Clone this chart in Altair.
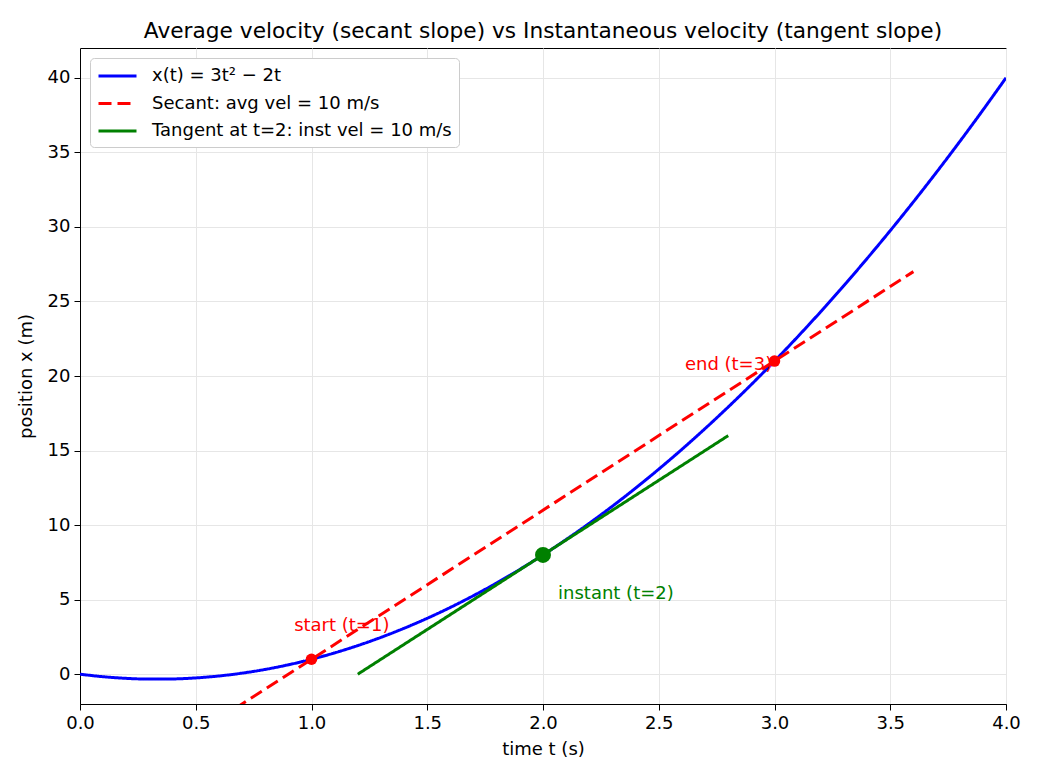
import altair as alt
import pandas as pd

# Curve x(t) = 3t^2 - 2t
t_vals = [0.0, 0.1, 0.2, 0.3, 0.4, 0.5, 0.6, 0.7, 0.8, 0.9, 1.0, 1.1, 1.2, 1.3, 1.4, 1.5,
          1.6, 1.7, 1.8, 1.9, 2.0, 2.1, 2.2, 2.3, 2.4, 2.5, 2.6, 2.7, 2.8, 2.9, 3.0, 3.1,
          3.2, 3.3, 3.4, 3.5, 3.6, 3.7, 3.8, 3.9, 4.0]
x_vals = [0.0, -0.17, -0.28, -0.33, -0.32, -0.25, -0.12, 0.07, 0.32, 0.63, 1.0, 1.43, 1.92,
          2.47, 3.08, 3.75, 4.48, 5.27, 6.12, 7.03, 8.0, 9.03, 10.12, 11.27, 12.48, 13.75,
          15.08, 16.47, 17.92, 19.43, 21.0, 22.63, 24.32, 26.07, 27.88, 29.75, 31.68, 33.67,
          35.72, 37.83, 40.0]

secant_t = [0.6, 3.6]
secant_x = [-3.0, 27.0]
tangent_t = [1.2, 2.8]
tangent_x = [0.0, 16.0]

series_names = ["x(t) = 3t² − 2t", "Secant: avg vel = 10 m/s", "Tangent at t=2: inst vel = 10 m/s"]
series_colors = ["#0000ff", "#ff0000", "#008000"]

red_pts_t = [1.0, 3.0]
red_pts_x = [1.0, 21.0]
green_pt_t = [2.0]
green_pt_x = [8.0]

labels_text = ["start (t=1)", "end (t=3)", "instant (t=2)"]
labels_t = [0.925, 2.613, 2.065]
labels_x = [3.2, 20.74, 5.37]
labels_color = ["#ff0000", "#ff0000", "#008000"]

lines = pd.concat([
    pd.DataFrame({"t": t_vals, "x": x_vals, "series": series_names[0], "o": range(len(t_vals))}),
    pd.DataFrame({"t": secant_t, "x": secant_x, "series": series_names[1], "o": [0, 1]}),
    pd.DataFrame({"t": tangent_t, "x": tangent_x, "series": series_names[2], "o": [0, 1]}),
])

xscale = alt.Scale(domain=[0, 4], nice=False, zero=False)
yscale = alt.Scale(domain=[-2, 42], nice=False, zero=False)

xenc = alt.X("t:Q", scale=xscale, title="time t (s)",
             axis=alt.Axis(values=[0, 0.5, 1, 1.5, 2, 2.5, 3, 3.5, 4], format=".1f"))
yenc = alt.Y("x:Q", scale=yscale, title="position x (m)",
             axis=alt.Axis(values=[0, 5, 10, 15, 20, 25, 30, 35, 40], format="d"))

line_layer = alt.Chart(lines).mark_line(clip=True, strokeWidth=3, interpolate="monotone").encode(
    x=xenc, y=yenc,
    order="o:Q",
    color=alt.Color("series:N", scale=alt.Scale(domain=series_names, range=series_colors),
                    sort=series_names, title=None,
                    legend=alt.Legend(orient="top-left", offset=10, symbolType="M-1,0H3",
                                      symbolSize=361, symbolStrokeWidth=3,
                                      symbolFillColor="transparent",
                                      labelFontSize=18, labelLimit=600, labelOffset=33,
                                      fillColor="white", strokeColor="#cccccc",
                                      cornerRadius=4, padding=7, rowPadding=7.5)),
    strokeDash=alt.StrokeDash("series:N", sort=series_names,
                              scale=alt.Scale(domain=series_names, range=[[1, 0], [13, 6], [1, 0]]),
                              legend=None),
)

red_df = pd.DataFrame({"t": red_pts_t, "x": red_pts_x})
red_layer = alt.Chart(red_df).mark_circle(size=133, opacity=1, color="#ff0000").encode(x="t:Q", y="x:Q")
green_df = pd.DataFrame({"t": green_pt_t, "x": green_pt_x})
green_layer = alt.Chart(green_df).mark_circle(size=254, opacity=1, color="#008000").encode(x="t:Q", y="x:Q")

lab_df = pd.DataFrame({"t": labels_t, "x": labels_x, "txt": labels_text, "c": labels_color})
text_layer = alt.Chart(lab_df).mark_text(align="left", baseline="middle", fontSize=18).encode(
    x="t:Q", y="x:Q", text="txt:N", color=alt.Color("c:N", scale=None))

chart = alt.layer(line_layer, red_layer, green_layer, text_layer).properties(
    width=926, height=656,
    title=alt.Title("Average velocity (secant slope) vs Instantaneous velocity (tangent slope)",
                    fontSize=21.7, fontWeight="normal", offset=5, color="black"),
    autosize=alt.AutoSizeParams(type="none"),
    padding={"left": 80, "top": 48, "right": 34, "bottom": 76},
).configure(font="DejaVu Sans", background="white").configure_view(
    stroke="black", strokeWidth=1
).configure_axis(
    domainColor="black", tickColor="black", tickSize=6, labelPadding=4,
    labelFontSize=18, titleFontSize=18, labelColor="black", titleColor="black",
    titleFontWeight="normal", grid=True, gridColor="#e6e6e6", gridWidth=1,
).configure_axisX(titlePadding=8, labelFlush=False).configure_axisY(titlePadding=12)

chart.save("out.html", embed_options={"renderer": "svg", "actions": False})
